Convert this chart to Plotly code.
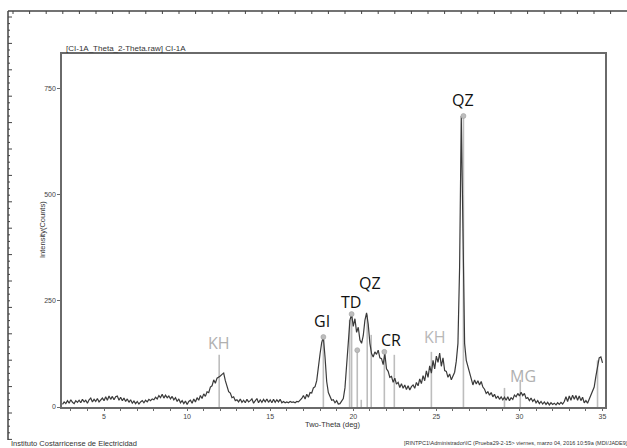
import numpy as np
import plotly.graph_objects as go

# ---------------- data ----------------
start_2theta = 2.5
step_2theta = 0.1
counts = [
    6, 12, 8, 15, 9, 17, 11, 8, 15, 11, 16, 10, 18, 12, 16, 9, 17, 21, 12, 18, 13, 20, 12, 17, 21,   # 2.5-4.9
    15, 24, 16, 26, 18, 25, 17, 24, 26, 16,        # 5.0
    23, 15, 21, 13, 19, 11, 17, 9, 14, 8,          # 6.0
    13, 7, 12, 15, 10, 16, 12, 18, 15, 19,         # 7.0
    17, 23, 19, 27, 22, 30, 21, 28, 22, 26,        # 8.0
    19, 25, 17, 22, 13, 19, 10, 15, 8, 14,         # 9.0
    6, 13, 16, 9, 19, 12, 22, 16, 27, 20,          # 10.0
    31, 25, 36, 34, 47, 50, 64, 56, 68, 70,        # 11.0
    73, 77, 80, 62, 50, 36, 33, 22, 24, 15,        # 12.0
    17, 12, 19, 11, 16, 10, 18, 12, 15, 19,        # 13.0
    9, 16, 20, 10, 17, 11, 18, 12, 19, 11,         # 14.0
    17, 10, 18, 11, 17, 12, 18, 10, 13, 10,        # 15.0
    12, 10, 13, 11, 12, 10, 13, 12, 16, 20,        # 16.0
    27, 19, 30, 23, 34, 33, 45, 48, 62, 88,        # 17.0
    125, 152, 165, 118, 60, 34, 26, 16, 17, 10,    # 18.0
    15, 7, 8, 13, 20, 45, 95, 160, 205, 219,       # 19.0
    190, 208, 176, 188, 158, 150, 168, 204, 222, 195,  # 20.0
    150, 126, 118, 130, 124, 134, 116, 114, 100, 126,  # 21.0
    90, 84, 70, 72, 58, 68, 54, 58, 46, 55,        # 22.0
    44, 52, 41, 50, 40, 48, 52, 44, 58, 50,        # 23.0
    66, 55, 74, 62, 85, 70, 97, 80, 110, 90,       # 24.0
    120, 105, 127, 96, 116, 86, 84, 70, 78, 64,    # 25.0
    74, 82, 108, 150, 330, 686, 420, 150, 110, 96, # 26.0
    80, 72, 52, 64, 54, 62, 52, 60, 47, 42,        # 27.0
    32, 36, 28, 34, 24, 30, 20, 26, 18, 24,        # 28.0
    17, 23, 16, 24, 15, 22, 18, 28, 24, 32,        # 29.0
    26, 35, 27, 32, 20, 22, 15, 21, 13, 18,        # 30.0
    10, 15, 8, 13, 7, 12, 6, 11, 5, 10,            # 31.0
    6, 9, 5, 10, 6, 11, 7, 13, 24, 13,             # 32.0
    26, 16, 28, 18, 27, 16, 26, 15, 23, 10,        # 33.0
    15, 9, 19, 27, 36, 47, 72, 90, 116, 118, 104   # 34.0-35.0
]
two_theta = np.round(start_2theta + step_2theta * np.arange(len(counts)), 2)

# reference pattern sticks
stick_pos = [11.93, 18.2, 19.78, 19.9, 20.24, 20.48, 20.84, 21.08, 21.87, 22.47, 24.7, 26.63, 29.1, 30.05, 34.7]
stick_height = [123, 160, 205, 215, 134, 17, 218, 170, 130, 123, 130, 686, 45, 64, 110]
# peak markers
marker_pos = [18.2, 19.9, 20.24, 21.87, 26.63]
marker_height = [165, 219, 134, 130, 686]

# phase labels
label_text = ["KH", "GI", "TD", "QZ", "CR", "KH", "QZ", "MG"]
label_x = [11.9, 18.13, 19.88, 21.02, 22.29, 24.94, 26.63, 30.24]
label_y = [151, 203, 248, 292, 158, 165, 724, 73]
label_color = ["#b0b0b0", "#111111", "#111111", "#111111", "#111111", "#b8b8b8", "#111111", "#b0b0b0"]

x_ticks = [5, 10, 15, 20, 25, 30, 35]
y_ticks = [0, 250, 500, 750]

# ---------------- figure ----------------
W, H = 627, 448
L, R, T, B = 62, 22, 54, 41
pw, ph = W - L - R, H - T - B

def px(x):
    return (x - L) / pw

def py(y):
    return (H - B - y) / ph

fig = go.Figure()

sx, sy = [], []
for p, h in zip(stick_pos, stick_height):
    sx += [p, p, None]
    sy += [0, h, None]
fig.add_trace(go.Scatter(x=sx, y=sy, mode="lines",
                         line=dict(color="#bdbdbd", width=1.6), hoverinfo="skip"))

fig.add_trace(go.Scatter(x=two_theta, y=counts, mode="lines",
                         line=dict(color="#3a3a3a", width=1.2)))

fig.add_trace(go.Scatter(x=marker_pos, y=marker_height, mode="markers",
                         marker=dict(color="#bdbdbd", size=5, line=dict(color="#999", width=0.5)),
                         hoverinfo="skip"))

for t, x, y, c in zip(label_text, label_x, label_y, label_color):
    fig.add_annotation(x=x, y=y, text=t, showarrow=False, xref="x", yref="y",
                       font=dict(family="Open Sans", size=16, color=c))

axis_col = "#6a6a6a"
fig.update_xaxes(range=[2.47, 35.15], tickvals=x_ticks, ticks="outside", ticklen=2,
                 tickcolor=axis_col, showline=True, linecolor=axis_col, linewidth=1.5,
                 mirror=True, showgrid=False, zeroline=False,
                 tickfont=dict(family="Liberation Sans", size=7, color="#444"),
                 minor=dict(dtick=1, ticks="outside", ticklen=2, tickcolor=axis_col))
fig.update_yaxes(range=[0, 832], tickvals=y_ticks, ticks="outside", ticklen=3,
                 tickcolor=axis_col, showline=True, linecolor=axis_col, linewidth=1.5,
                 mirror=True, showgrid=False, zeroline=False,
                 tickfont=dict(family="Liberation Sans", size=7, color="#444"))

small = dict(family="Liberation Sans", color="#333333")
fig.add_annotation(x=px(64), y=py(55), xref="paper", yref="paper", xanchor="left", yanchor="bottom",
                   text="[CI-1A_Theta_2-Theta.raw] CI-1A", showarrow=False, font=dict(size=8, **small))
fig.add_annotation(x=px(333), y=py(424), xref="paper", yref="paper", xanchor="center", yanchor="middle",
                   text="Two-Theta (deg)", showarrow=False, font=dict(size=7.5, **small))
fig.add_annotation(x=px(42), y=py(230), xref="paper", yref="paper", textangle=-90,
                   xanchor="center", yanchor="middle",
                   text="Intensity(Counts)", showarrow=False, font=dict(size=7.5, **small))
fig.add_annotation(x=px(9), y=py(443), xref="paper", yref="paper", xanchor="left", yanchor="middle",
                   text="Instituto Costarricense de Electricidad", showarrow=False, font=dict(size=7.5, **small))
fig.add_annotation(x=px(402), y=py(443), xref="paper", yref="paper", xanchor="left", yanchor="middle",
                   text="[RINTPC1\\Administrador\\IC (Prueba29-2-15> viernes, marzo 04, 2016 10:59a (MDI/JADE9)",
                   showarrow=False, font=dict(size=5.5, **small))

# outer ruler frame
shapes = []
fc = "#444"
shapes.append(dict(type="line", xref="paper", yref="paper", x0=px(8), x1=px(640), y0=py(11), y1=py(11),
                   line=dict(color=fc, width=1.5)))
shapes.append(dict(type="line", xref="paper", yref="paper", x0=px(8), x1=px(8), y0=py(11), y1=py(440),
                   line=dict(color=fc, width=1.5)))
xx = 13.0
while xx < 627:
    shapes.append(dict(type="line", xref="paper", yref="paper", x0=px(xx), x1=px(xx), y0=py(11), y1=py(14),
                       line=dict(color=fc, width=1)))
    xx += 16.6
yy, k = 17.0, 0
while yy < 440:
    ln = 4 if k % 4 == 0 else 2
    shapes.append(dict(type="line", xref="paper", yref="paper", x0=px(8), x1=px(8 + ln), y0=py(yy), y1=py(yy),
                       line=dict(color=fc, width=1)))
    yy += 6.6
    k += 1
fig.update_layout(shapes=shapes)

fig.update_layout(width=W, height=H, margin=dict(l=L, r=R, t=T, b=B, autoexpand=False),
                  paper_bgcolor="white", plot_bgcolor="white", showlegend=False)

fig.write_html("out.html")
